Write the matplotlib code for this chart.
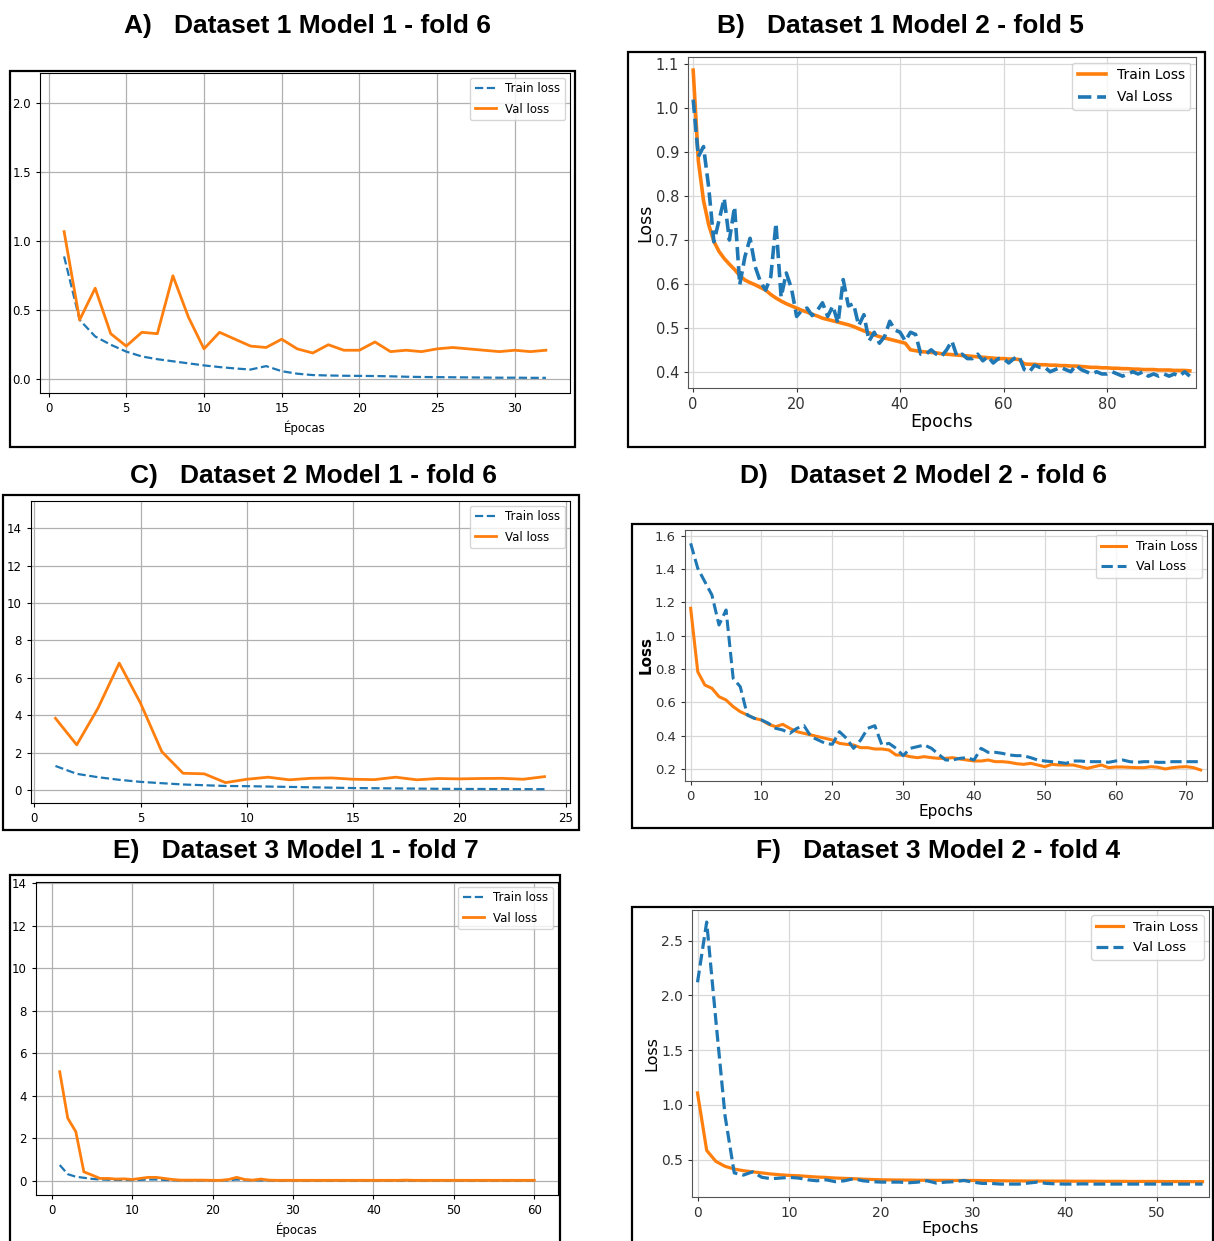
import numpy as np
from matplotlib import pyplot as plt
from matplotlib.patches import Rectangle

# ---- data ----
A_train = [0.89, 0.43, 0.31, 0.25, 0.20, 0.165, 0.145, 0.13, 0.115, 0.10, 0.088, 0.078, 0.07, 0.095, 0.058, 0.04,
           0.03, 0.027, 0.025, 0.024, 0.023, 0.021, 0.018, 0.016, 0.015, 0.014, 0.013, 0.012, 0.011, 0.011, 0.010, 0.010]
A_val = [1.07, 0.43, 0.66, 0.33, 0.24, 0.34, 0.33, 0.75, 0.45, 0.22, 0.34, 0.29, 0.24, 0.23, 0.29, 0.22,
         0.19, 0.25, 0.21, 0.21, 0.27, 0.20, 0.21, 0.20, 0.22, 0.23, 0.22, 0.21, 0.20, 0.21, 0.20, 0.21]

B_train = [1.087, 0.88, 0.79, 0.735, 0.697, 0.674, 0.658, 0.645, 0.633, 0.619, 0.609, 0.603, 0.598, 0.592, 0.586, 0.576,
           0.568, 0.561, 0.555, 0.55, 0.545, 0.54, 0.536, 0.531, 0.527, 0.522, 0.519, 0.516, 0.513, 0.51, 0.507, 0.503,
           0.498, 0.493, 0.489, 0.484, 0.48, 0.477, 0.474, 0.471, 0.468, 0.465, 0.45, 0.448, 0.446, 0.445, 0.444, 0.443,
           0.441, 0.44, 0.439, 0.438, 0.437, 0.436, 0.435, 0.434, 0.433, 0.432, 0.431, 0.43, 0.43, 0.429, 0.429, 0.428,
           0.418, 0.417, 0.417, 0.416, 0.416, 0.415, 0.415, 0.414, 0.414, 0.413, 0.413, 0.412, 0.411, 0.41, 0.41, 0.409,
           0.409, 0.408, 0.408, 0.407, 0.407, 0.406, 0.406, 0.405, 0.405, 0.405, 0.404, 0.404, 0.404, 0.403, 0.403, 0.403,
           0.402]
B_val = [1.02, 0.89, 0.913, 0.82, 0.696, 0.745, 0.795, 0.70, 0.776, 0.598, 0.662, 0.704, 0.639, 0.605, 0.586, 0.616,
         0.738, 0.57, 0.625, 0.59, 0.526, 0.54, 0.545, 0.528, 0.54, 0.557, 0.526, 0.55, 0.51, 0.61, 0.55, 0.555,
         0.505, 0.53, 0.47, 0.49, 0.465, 0.48, 0.515, 0.495, 0.49, 0.47, 0.49, 0.485, 0.44, 0.44, 0.45, 0.44,
         0.435, 0.45, 0.47, 0.435, 0.44, 0.43, 0.43, 0.44, 0.425, 0.435, 0.42, 0.43, 0.43, 0.42, 0.43, 0.435,
         0.405, 0.40, 0.415, 0.41, 0.41, 0.40, 0.405, 0.41, 0.405, 0.40, 0.415, 0.405, 0.40, 0.395, 0.40, 0.395,
         0.395, 0.40, 0.395, 0.39, 0.395, 0.40, 0.395, 0.40, 0.39, 0.395, 0.39, 0.395, 0.39, 0.395, 0.39, 0.40,
         0.39]

C_train = [1.28, 0.86, 0.68, 0.54, 0.43, 0.36, 0.29, 0.25, 0.21, 0.20, 0.18, 0.16, 0.14, 0.12, 0.10, 0.09,
           0.08, 0.07, 0.06, 0.05, 0.05, 0.04, 0.04, 0.04]
C_val = [3.83, 2.41, 4.37, 6.78, 4.64, 2.05, 0.89, 0.86, 0.39, 0.57, 0.68, 0.54, 0.62, 0.64, 0.57, 0.55,
         0.68, 0.54, 0.61, 0.59, 0.61, 0.62, 0.57, 0.71]

D_train = [1.164, 0.784, 0.704, 0.684, 0.634, 0.614, 0.574, 0.544, 0.524, 0.504, 0.494, 0.468, 0.454, 0.468, 0.444, 0.424,
           0.414, 0.404, 0.394, 0.384, 0.374, 0.354, 0.348, 0.344, 0.328, 0.328, 0.32, 0.32, 0.314, 0.284, 0.284, 0.274,
           0.268, 0.274, 0.268, 0.264, 0.264, 0.268, 0.26, 0.254, 0.248, 0.248, 0.254, 0.244, 0.244, 0.24, 0.232, 0.228,
           0.234, 0.224, 0.214, 0.228, 0.224, 0.224, 0.224, 0.214, 0.204, 0.214, 0.224, 0.208, 0.212, 0.212, 0.21, 0.208,
           0.208, 0.214, 0.21, 0.20, 0.208, 0.212, 0.214, 0.208, 0.194]
D_val = [1.554, 1.404, 1.324, 1.244, 1.064, 1.154, 0.744, 0.694, 0.524, 0.504, 0.494, 0.474, 0.444, 0.434, 0.414, 0.444,
         0.46, 0.394, 0.374, 0.354, 0.348, 0.424, 0.384, 0.324, 0.374, 0.444, 0.46, 0.344, 0.354, 0.324, 0.28, 0.324,
         0.334, 0.344, 0.324, 0.288, 0.254, 0.254, 0.264, 0.268, 0.254, 0.324, 0.30, 0.30, 0.294, 0.284, 0.28, 0.28,
         0.268, 0.254, 0.248, 0.244, 0.24, 0.234, 0.248, 0.248, 0.244, 0.244, 0.244, 0.24, 0.248, 0.254, 0.244, 0.24,
         0.244, 0.244, 0.24, 0.24, 0.244, 0.244, 0.244, 0.244, 0.244]

E_train = [0.74, 0.31, 0.19, 0.14, 0.09, 0.06, 0.05, 0.04, 0.04, 0.03, 0.04, 0.06, 0.06, 0.04, 0.03, 0.02,
           0.02, 0.02, 0.02, 0.02, 0.02, 0.02, 0.06, 0.03, 0.02, 0.02, 0.02, 0.01, 0.01, 0.01, 0.01, 0.01,
           0.01, 0.01, 0.01, 0.01, 0.01, 0.01, 0.01, 0.01, 0.01, 0.01, 0.01, 0.01, 0.01, 0.01, 0.01, 0.01,
           0.01, 0.01, 0.01, 0.01, 0.01, 0.01, 0.01, 0.01, 0.01, 0.01, 0.01, 0.01]
E_val = [5.13, 2.94, 2.31, 0.42, 0.27, 0.11, 0.11, 0.08, 0.09, 0.06, 0.11, 0.16, 0.16, 0.11, 0.06, 0.03,
         0.03, 0.03, 0.03, 0.02, 0.02, 0.06, 0.16, 0.06, 0.03, 0.08, 0.03, 0.02, 0.02, 0.02, 0.02, 0.02,
         0.02, 0.02, 0.02, 0.02, 0.02, 0.02, 0.02, 0.02, 0.02, 0.02, 0.02, 0.03, 0.02, 0.02, 0.02, 0.02,
         0.02, 0.02, 0.02, 0.02, 0.02, 0.02, 0.02, 0.02, 0.02, 0.02, 0.02, 0.02]

F_train = [1.11, 0.585, 0.485, 0.44, 0.415, 0.40, 0.39, 0.38, 0.37, 0.363, 0.357, 0.354, 0.348, 0.342, 0.339, 0.333,
           0.33, 0.327, 0.323, 0.32, 0.317, 0.316, 0.315, 0.314, 0.313, 0.313, 0.312, 0.312, 0.311, 0.311, 0.311, 0.310,
           0.309, 0.308, 0.307, 0.307, 0.306, 0.306, 0.305, 0.305, 0.305, 0.304, 0.304, 0.304, 0.303, 0.303, 0.303, 0.302,
           0.302, 0.302, 0.302, 0.301, 0.301, 0.301, 0.300, 0.300]
F_val = [2.12, 2.67, 1.77, 0.90, 0.38, 0.36, 0.39, 0.34, 0.327, 0.333, 0.339, 0.333, 0.317, 0.308, 0.317, 0.30,
         0.308, 0.327, 0.308, 0.30, 0.296, 0.296, 0.296, 0.29, 0.296, 0.308, 0.287, 0.296, 0.30, 0.311, 0.296, 0.284,
         0.284, 0.278, 0.278, 0.278, 0.287, 0.296, 0.284, 0.28, 0.278, 0.278, 0.28, 0.278, 0.278, 0.278, 0.278, 0.278,
         0.278, 0.278, 0.278, 0.278, 0.278, 0.278, 0.278, 0.278]

W, H = 1214, 1241
fig = plt.figure(figsize=(W / 100, H / 100), dpi=100)


def px_axes(l, t, r, b):
    return fig.add_axes([l / W, 1 - b / H, (r - l) / W, (b - t) / H])


def frame(l, t, r, b):
    fig.patches.append(Rectangle((l / W, 1 - b / H), (r - l) / W, (b - t) / H, transform=fig.transFigure,
                                 fill=False, edgecolor='black', linewidth=1.6, zorder=10))


def title(x, y, s):
    fig.text(x / W, 1 - y / H, s, ha='center', va='center', fontsize=19, fontweight='bold',
             family='Liberation Sans')


# ---- left column: "Train loss" dashed blue / "Val loss" orange ----
def plot_left(ax, train, val, xlim, ylim, yticks, xticks, fs, xlabel=None):
    ep = np.arange(1, len(train) + 1)
    ax.plot(ep, train, '--', color='tab:blue', lw=1.6, label='Train loss')
    ax.plot(ep, val, '-', color='tab:orange', lw=2.0, label='Val loss')
    ax.set_xlim(xlim)
    ax.set_ylim(ylim)
    ax.set_yticks(yticks)
    ax.set_xticks(xticks)
    ax.grid(True, color='#b0b0b0', lw=0.9)
    ax.tick_params(labelsize=fs, length=3)
    ax.legend(loc='upper right', fontsize=fs, handlelength=1.8, borderaxespad=0.4, labelspacing=0.6)
    if xlabel:
        ax.set_xlabel(xlabel, fontsize=fs)


# ---- right column: "Train Loss" orange / "Val Loss" dashed blue ----
def plot_right(ax, train, val, xlim, ylim, yticks, xticks, fs, lw, ylabel_bold=False, lfs=None):
    ep = np.arange(len(train))
    ax.plot(ep, train, '-', color='#ff7f0e', lw=lw, label='Train Loss')
    ax.plot(ep, val, '--', color='#1f77b4', lw=lw, label='Val Loss')
    ax.set_xlim(xlim)
    ax.set_ylim(ylim)
    ax.set_yticks(yticks)
    ax.set_xticks(xticks)
    ax.grid(True, color='#d8d8d8', lw=0.9)
    for s in ax.spines.values():
        s.set_color('#555555')
    ax.tick_params(labelsize=fs, length=3, colors='#333333')
    ax.legend(loc='upper right', fontsize=fs - 0.5, handlelength=2.0, borderaxespad=0.4, labelspacing=0.6)
    ax.set_xlabel('Epochs', fontsize=lfs or fs + 1.5, labelpad=1)
    ax.set_ylabel('Loss', fontsize=lfs or fs + 1.5, labelpad=1,
                  fontweight='bold' if ylabel_bold else 'normal')


# A
title(307, 26, 'A)   Dataset 1 Model 1 - fold 6')
frame(10, 71, 575, 447)
axA = px_axes(40, 73, 570, 393)
plot_left(axA, A_train, A_val, (-0.55, 33.55), (-0.1, 2.22), [0.0, 0.5, 1.0, 1.5, 2.0],
          [0, 5, 10, 15, 20, 25, 30], 8.5, 'Épocas')
axA.yaxis.set_major_formatter(plt.FormatStrFormatter('%.1f'))

# B
title(900, 26, 'B)   Dataset 1 Model 2 - fold 5')
frame(628, 52, 1205, 447)
axB = px_axes(688, 57, 1196, 388)
plot_right(axB, B_train, B_val, (-1, 97.2), (0.363, 1.117), [0.4, 0.5, 0.6, 0.7, 0.8, 0.9, 1.0, 1.1],
           [0, 20, 40, 60, 80], 10.5, 2.6, lfs=12.5)

# C
title(313, 476, 'C)   Dataset 2 Model 1 - fold 6')
frame(3, 495, 579, 830)
axC = px_axes(31, 501, 570, 803)
plot_left(axC, C_train, C_val, (-0.15, 25.2), (-0.7, 15.45), [0, 2, 4, 6, 8, 10, 12, 14],
          [0, 5, 10, 15, 20, 25], 8.5)

# D
title(924, 476, 'D)   Dataset 2 Model 2 - fold 6')
frame(632, 524, 1213, 828)
axD = px_axes(685, 530, 1207, 781)
plot_right(axD, D_train, D_val, (-0.8, 72.9), (0.128, 1.634), [0.2, 0.4, 0.6, 0.8, 1.0, 1.2, 1.4, 1.6],
           [0, 10, 20, 30, 40, 50, 60, 70], 9.5, 2.2, ylabel_bold=True, lfs=11)

# E
title(296, 851, 'E)   Dataset 3 Model 1 - fold 7')
frame(10, 875, 560, 1260)
axE = px_axes(36, 882, 558, 1195)
plot_left(axE, E_train, E_val, (-1.95, 62.95), (-0.67, 14.06), [0, 2, 4, 6, 8, 10, 12, 14],
          [0, 10, 20, 30, 40, 50, 60], 8.5, 'Épocas')

# F
title(938, 851, 'F)   Dataset 3 Model 2 - fold 4')
frame(632, 907, 1213, 1260)
axF = px_axes(692, 910, 1209, 1197)
plot_right(axF, F_train, F_val, (-0.6, 55.7), (0.16, 2.78), [0.5, 1.0, 1.5, 2.0, 2.5],
           [0, 10, 20, 30, 40, 50], 10, 2.3, lfs=11.5)

fig.savefig('out.png', dpi=100)
